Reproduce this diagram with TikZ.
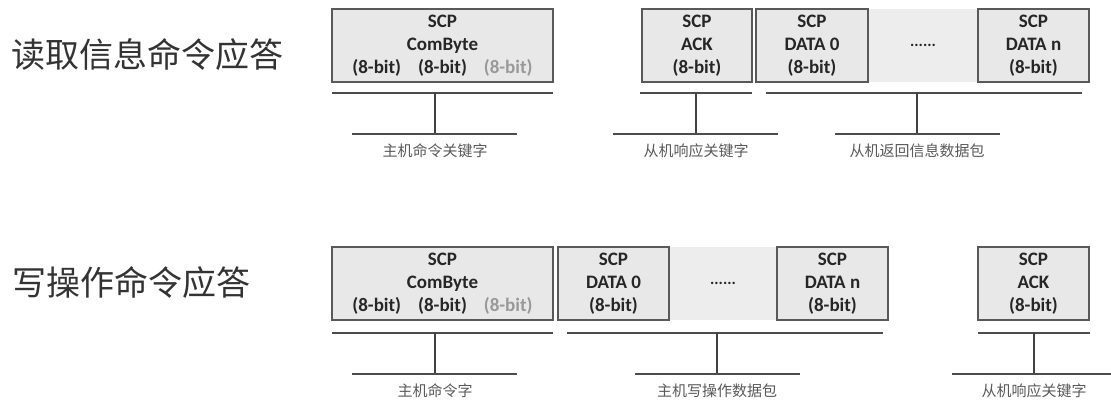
\documentclass[tikz,border=0pt]{standalone}
\usepackage{fontspec}
\setmainfont{Carlito}
\newfontfamily\cjk{Noto Sans CJK SC}
\usetikzlibrary{positioning}

\begin{document}
\begin{tikzpicture}[x=1pt,y=-1pt,
  cell/.style={draw=black!65,line width=1.3pt,fill=black!9,minimum width=111pt,minimum height=73pt,
    inner sep=0pt,align=center,text=black!85,font=\bfseries\fontsize{19}{23}\selectfont},
  gap/.style={fill=black!7,minimum height=73pt,inner sep=0pt,text=black!85,font=\bfseries\fontsize{16}{16}\selectfont},
  bar/.style={draw=black!70,line width=1.6pt},
  stem/.style={draw=black!75,line width=1.1pt},
  tag/.style={font=\cjk\fontsize{15}{15}\selectfont,text=black!65,inner sep=1pt},
  head/.style={font=\cjk\fontsize{34}{34}\selectfont,text=black!80,anchor=west,inner sep=0pt}]
  \useasboundingbox (0,0) rectangle (1111,401);
  % bracket under a group of cells: name, top bar, stem x, bottom bar, bar y, text
  \newcommand{\bracket}[8]{%
    \coordinate (#1l) at (#2,#7); \coordinate (#1r) at (#3,#7);
    \coordinate (#1s) at (#4,#7); \coordinate (#1e) at (#4,#7+41);
    \coordinate (#1p) at (#5,#7+41); \coordinate (#1q) at (#6,#7+41);
    \draw[bar] (#1l)--(#1r); \draw[stem] (#1s)--(#1e); \draw[bar] (#1p)--(#1q);
    \node[tag,below=9pt of #1e] (#1t) {#8};}
  \newcommand{\bits}{(8-bit)}

  % read command / answer
  \node[head] (rdA) at (11,54) {读取信息命令应答};
  \node[gap,minimum width=110pt] (dotsA) at (923,45.5) {......};
  \node[cell,minimum width=221pt] (cmdA) at (442.5,45.5)
    {SCP\\ComByte\\\bits\hspace{17pt}\bits\hspace{17pt}\textcolor{black!40}{\bits}};
  \node[cell,minimum width=110pt] (ackA) at (697,45.5) {SCP\\ACK\\\bits};
  \node[cell,minimum width=112pt] (d0A) at (812,45.5) {SCP\\DATA 0\\\bits};
  \node[cell] (dnA) at (1033.5,45.5) {SCP\\DATA n\\\bits};
  \bracket{cmdA}{332}{553}{435}{352}{517}{93}{主机命令关键字}
  \bracket{ackA}{640}{752}{696}{613}{778}{93}{从机响应关键字}
  \bracket{datA}{766}{1082}{917}{835}{1000}{93}{从机返回信息数据包}

  % write command / answer
  \node[head] (wrB) at (12,282) {写操作命令应答};
  \node[gap,minimum width=108pt] (dotsB) at (723,283.5) {......};
  \node[cell,minimum width=221pt] (cmdB) at (442.5,283.5)
    {SCP\\ComByte\\\bits\hspace{17pt}\bits\hspace{17pt}\textcolor{black!40}{\bits}};
  \node[cell] (d0B) at (613.5,283.5) {SCP\\DATA 0\\\bits};
  \node[cell] (dnB) at (832.5,283.5) {SCP\\DATA n\\\bits};
  \node[cell] (ackB) at (1033.5,283.5) {SCP\\ACK\\\bits};
  \bracket{cmdB}{332}{553}{435}{352}{517}{333}{主机命令字}
  \bracket{datB}{567}{883}{717}{635}{800}{333}{主机写操作数据包}
  \bracket{ackB}{978}{1090}{1034}{952}{1111}{333}{从机响应关键字}
\end{tikzpicture}
\end{document}
